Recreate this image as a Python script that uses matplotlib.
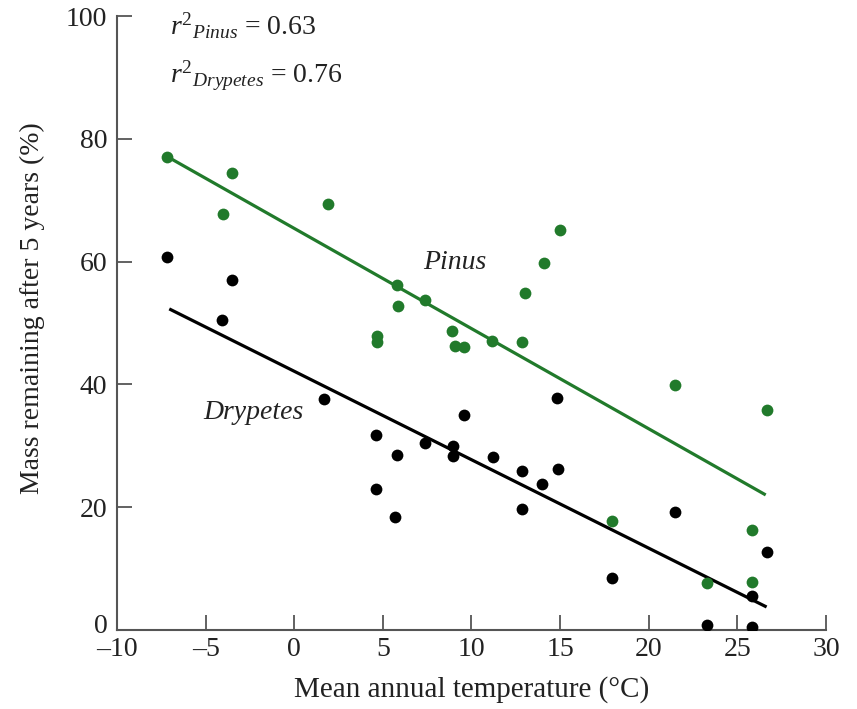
import matplotlib
matplotlib.use("Agg")
import matplotlib.pyplot as plt
from matplotlib.transforms import ScaledTranslation

plt.rcParams['font.family'] = ['Liberation Serif', 'DejaVu Serif']
plt.rcParams['mathtext.fontset'] = 'custom'
plt.rcParams['mathtext.rm'] = 'Liberation Serif'
plt.rcParams['mathtext.it'] = 'Liberation Serif:italic'

# Data
pinus_x = [-7.2, -4.0, -3.5, 1.9, 4.65, 4.65, 5.8, 5.85, 7.4, 8.9, 9.05, 9.6, 11.15, 12.85,
           13.0, 14.1, 15.0, 17.9, 21.5, 23.3, 25.8, 25.8, 26.7]
pinus_y = [77.0, 67.8, 74.4, 69.4, 47.9, 46.9, 56.2, 52.8, 53.7, 48.7, 46.3, 46.1, 47.1, 46.9,
           54.9, 59.8, 65.1, 17.8, 39.9, 7.7, 16.3, 7.8, 35.8]
dry_x = [-7.2, -4.05, -3.5, 1.7, 4.6, 4.6, 5.8, 5.7, 7.4, 8.95, 8.95, 9.6, 11.2, 12.85, 12.85,
         14.0, 14.8, 14.9, 17.9, 21.5, 23.3, 25.8, 25.8, 26.7]
dry_y = [60.7, 50.5, 57.0, 37.6, 31.8, 23.0, 28.5, 18.4, 30.5, 30.0, 28.3, 35.0, 28.2, 25.9, 19.7,
         23.8, 37.8, 26.2, 8.5, 19.2, 0.8, 5.5, 0.5, 12.7]
pinus_fit_x = [-7.1, 26.6]
pinus_fit_y = [77.0, 22.0]
dry_fit_x = [-7.05, 26.65]
dry_fit_y = [52.3, 3.75]
x_ticks = [-10, -5, 0, 5, 10, 15, 20, 25, 30]
y_ticks = [0, 20, 40, 60, 80, 100]

green = '#217a2b'
axis_col = '#555555'
txt_col = '#222222'
fs = 20

fig = plt.figure(figsize=(8.57, 7.09), dpi=100)
ax = fig.add_axes([0.1365, 0.1114, 0.8273, 0.866])

ax.plot(pinus_fit_x, pinus_fit_y, color=green, lw=2.3, zorder=2, solid_capstyle='butt')
ax.plot(dry_fit_x, dry_fit_y, color='black', lw=2.3, zorder=2, solid_capstyle='butt')
ax.scatter(pinus_x, pinus_y, s=72, color=green, zorder=3, linewidths=0)
ax.scatter(dry_x, dry_y, s=72, color='black', zorder=3, linewidths=0)

ax.set_xlim(-10, 30)
ax.set_ylim(0, 100)
ax.set_xticks(x_ticks)
ax.set_yticks(y_ticks)
ax.set_xticklabels(['\u2013' + str(-t) if t < 0 else str(t) for t in x_ticks])
ax.tick_params(direction='in', length=11, width=1.3, labelsize=fs, color=axis_col,
               labelcolor=txt_col)
ax.tick_params(axis='x', pad=5)
ax.tick_params(axis='y', pad=7)
for s in ['top', 'right']:
    ax.spines[s].set_visible(False)
for s in ['left', 'bottom']:
    ax.spines[s].set_linewidth(1.5)
    ax.spines[s].set_color(axis_col)

# raise the y "0" label slightly so it clears the x "-10" label
ylab0 = ax.get_yticklabels()[0]
ylab0.set_transform(ylab0.get_transform() + ScaledTranslation(0, 5 / 72, fig.dpi_scale_trans))

ax.set_xlabel('Mean annual temperature (\u00b0C)', fontsize=fs + 1, labelpad=10, color=txt_col)
ax.set_ylabel('Mass remaining after 5 years (%)', fontsize=fs, color=txt_col)
ax.yaxis.set_label_coords(-0.101, 0.525)

ax.text(-7.0, 98.4, r'$r^{2}{}_{Pinus}$ = 0.63', fontsize=fs, va='center', ha='left', color=txt_col)
ax.text(-7.0, 90.3, r'$r^{2}{}_{Drypetes}$ = 0.76', fontsize=fs, va='center', ha='left', color=txt_col)
ax.text(7.3, 59.9, 'Pinus', fontsize=fs, style='italic', ha='left', va='center', color=txt_col)
ax.text(-5.15, 35.5, 'Drypetes', fontsize=fs, style='italic', ha='left', va='center', color=txt_col)

fig.savefig('out.png', dpi=100)
